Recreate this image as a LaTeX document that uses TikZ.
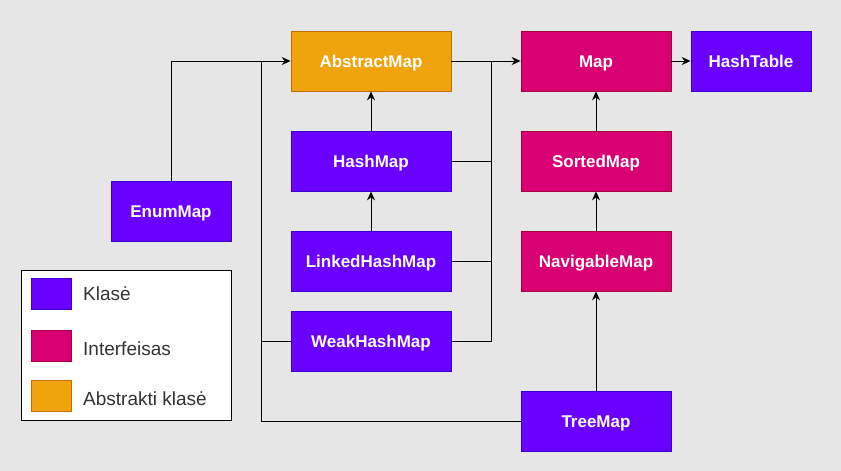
\documentclass[tikz,border=0pt]{standalone}
\usepackage{fontspec}
\setmainfont{Liberation Sans}
\usetikzlibrary{arrows.meta}
\definecolor{bg}{HTML}{E6E6E6}
\definecolor{cls}{HTML}{6A00FF}
\definecolor{clsS}{HTML}{3700CC}
\definecolor{itf}{HTML}{D80073}
\definecolor{itfS}{HTML}{A50040}
\definecolor{abs}{HTML}{F0A30A}
\definecolor{absS}{HTML}{BD7000}
\definecolor{txt}{HTML}{333333}
\tikzset{
  box/.style={draw, line width=0.8pt, minimum height=60pt, inner sep=0pt, text=white, text height=12.3pt, text depth=0pt, font=\fontsize{17}{19}\selectfont\bfseries},
  clsbox/.style={box, fill=cls, draw=clsS},
  itfbox/.style={box, fill=itf, draw=itfS},
  absbox/.style={box, fill=abs, draw=absS},
  conn/.style={line width=0.9pt, black},
  arr/.style={conn, -{Stealth[length=9pt,width=8pt,inset=3pt]}},
  legsq/.style={draw, line width=0.8pt, minimum width=40pt, minimum height=31pt, inner sep=0pt},
  legtxt/.style={anchor=west, text=txt, font=\fontsize{19}{21}\selectfont, inner sep=0pt},
}
\begin{document}
\begin{tikzpicture}[x=1pt,y=-1pt]
\fill[bg] (0,0) rectangle (841,471);
\useasboundingbox (0,0) rectangle (841,471);
% nodes
\node[absbox, minimum width=160pt] (abstractmap) at (371,61) {AbstractMap};
\node[itfbox, minimum width=150pt] (map) at (596,61) {Map};
\node[clsbox, minimum width=120pt] (hashtable) at (751,61) {HashTable};
\node[clsbox, minimum width=160pt] (hashmap) at (371,161) {HashMap};
\node[itfbox, minimum width=150pt] (sortedmap) at (596,161) {SortedMap};
\node[clsbox, minimum width=120pt] (enummap) at (171,211) {EnumMap};
\node[clsbox, minimum width=160pt] (linkedhashmap) at (371,261) {LinkedHashMap};
\node[itfbox, minimum width=150pt] (navigablemap) at (596,261) {NavigableMap};
\node[clsbox, minimum width=160pt] (weakhashmap) at (371,341) {WeakHashMap};
\node[clsbox, minimum width=150pt] (treemap) at (596,421) {TreeMap};
% legend
\node[draw=black, fill=white, line width=0.8pt, minimum width=210pt, minimum height=150pt, inner sep=0pt] (legend) at (126,345.5) {};
\node[legsq, fill=cls, draw=clsS] (lk) at (51,293.5) {};
\node[legtxt] (lkt) at (83,294) {Klasė};
\node[legsq, fill=itf, draw=itfS] (li) at (51,345.5) {};
\node[legtxt] (lit) at (83,349) {Interfeisas};
\node[legsq, fill=abs, draw=absS] (la) at (51,395.5) {};
\node[legtxt] (lat) at (83,399) {Abstrakti klasė};
% junction coordinates
\coordinate (jl) at (261,61);
\coordinate (jr) at (491,61);
% connectors
\draw[arr] (enummap.north) |- (abstractmap.west);
\draw[conn] (weakhashmap.west) -| (jl);
\draw[conn] (treemap.west) -| (jl);
\draw[arr] (hashmap.north) -- (abstractmap.south);
\draw[arr] (linkedhashmap.north) -- (hashmap.south);
\draw[arr] (abstractmap.east) -- (map.west);
\draw[conn] (hashmap.east) -| (jr);
\draw[conn] (linkedhashmap.east) -| (jr);
\draw[conn] (weakhashmap.east) -| (jr);
\draw[arr] (map.east) -- (hashtable.west);
\draw[arr] (sortedmap.north) -- (map.south);
\draw[arr] (navigablemap.north) -- (sortedmap.south);
\draw[arr] (treemap.north) -- (navigablemap.south);
\end{tikzpicture}
\end{document}
